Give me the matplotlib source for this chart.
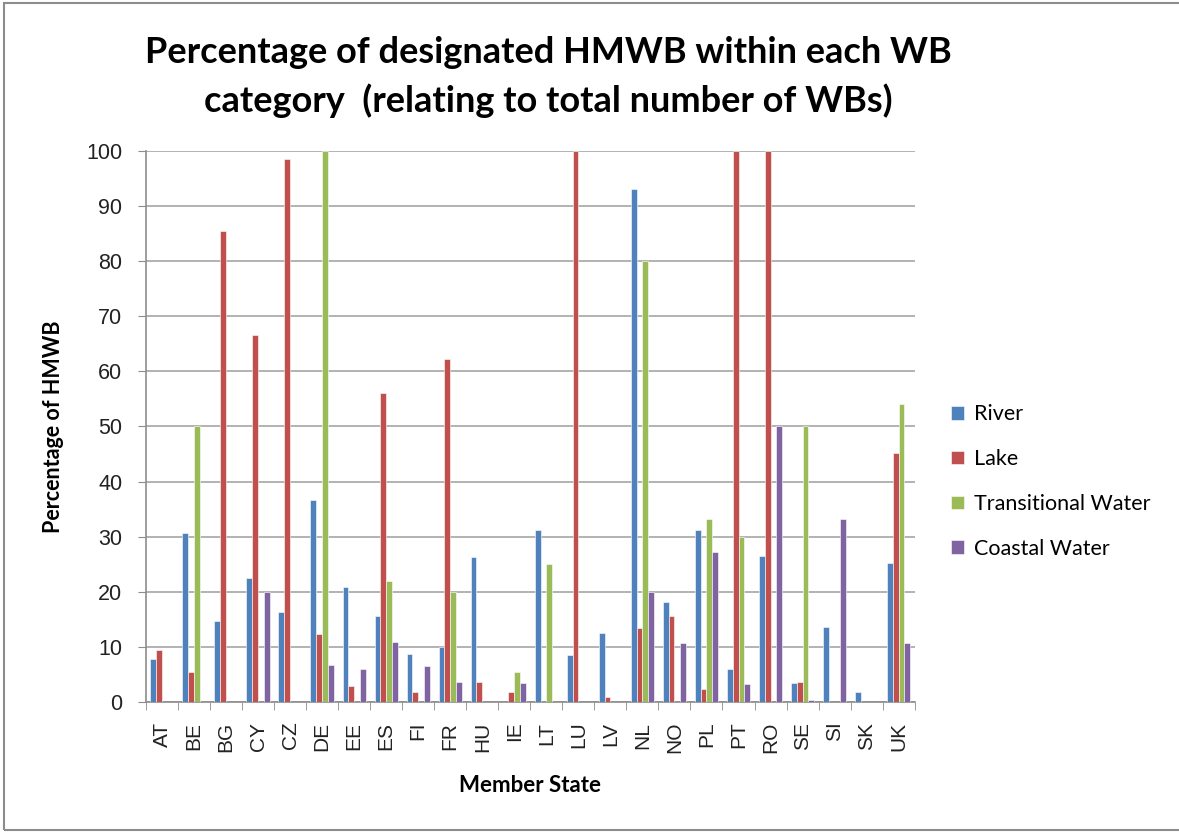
import numpy as np
import matplotlib.pyplot as plt
from matplotlib.patches import Rectangle

states = ['AT', 'BE', 'BG', 'CY', 'CZ', 'DE', 'EE', 'ES', 'FI', 'FR', 'HU', 'IE',
          'LT', 'LU', 'LV', 'NL', 'NO', 'PL', 'PT', 'RO', 'SE', 'SI', 'SK', 'UK']

river = [7.8, 30.7, 14.8, 22.5, 16.4, 36.6, 20.8, 15.7, 8.8, 10.0, 26.3, 0,
         31.3, 8.6, 12.5, 93.1, 18.2, 31.3, 6.0, 26.5, 3.4, 13.6, 1.9, 25.3]
lake = [9.5, 5.4, 85.4, 66.6, 98.5, 12.3, 2.9, 56.1, 1.8, 62.2, 3.7, 1.8,
        0, 100, 0.9, 13.5, 15.6, 2.4, 100, 100, 3.6, 0, 0, 45.2]
transitional = [0, 50, 0, 0, 0, 100, 0, 21.9, 0, 20, 0, 5.4,
                25, 0, 0, 80, 0, 33.3, 30, 0, 50, 0, 0, 54]
coastal = [0, 0, 0, 20, 0, 6.7, 6.1, 11, 6.5, 3.7, 0, 3.5,
           0, 0, 0, 20, 10.8, 27.3, 3.3, 50, 0.4, 33.3, 0, 10.7]

series = [('River', river, '#4F81BD'),
          ('Lake', lake, '#C0504D'),
          ('Transitional Water', transitional, '#9BBB59'),
          ('Coastal Water', coastal, '#8064A2')]

fig = plt.figure(figsize=(11.79, 8.32), dpi=100)
ax = fig.add_axes([0.1238, 0.156, 0.652, 0.663])

x = np.arange(len(states))
w = 1 / 5.5
for i, (name, vals, col) in enumerate(series):
    ax.bar(x + (i - 1.5) * w, vals, width=w, color=col, label=name,
           edgecolor='white', linewidth=0.4, zorder=3)

ax.set_xlim(-0.5, len(states) - 0.5)
ax.set_ylim(0, 100)
ax.set_yticks(range(0, 101, 10))
ax.yaxis.grid(True, color='#a6a6a6', linewidth=1.2, zorder=0)
ax.set_xticks(x)
ax.set_xticklabels(states, rotation=90, fontsize=15, family='Liberation Sans')
ax.set_xticks(np.arange(-0.5, len(states), 1), minor=True)
ax.tick_params(axis='x', which='major', length=0, pad=14)
ax.tick_params(axis='x', which='minor', length=6, color='#8c8c8c', direction='out')
ax.tick_params(axis='y', length=6, color='#8c8c8c', labelsize=15.5, pad=11)
for lbl in ax.get_yticklabels():
    lbl.set_family('Liberation Sans')
    lbl.set_color('#222222')
for lbl in ax.get_xticklabels():
    lbl.set_color('#222222')

for side in ['top', 'right']:
    ax.spines[side].set_visible(False)
ax.spines['left'].set_color('#8c8c8c')
ax.spines['bottom'].set_color('#8c8c8c')
ax.spines['left'].set_linewidth(1.2)
ax.spines['bottom'].set_linewidth(1.2)

ax.set_ylabel('Percentage of HMWB', fontsize=15.5, fontweight='bold', family='Lato', labelpad=16)
ax.set_xlabel('Member State', fontsize=16, fontweight='bold', family='Lato', labelpad=16)

fig.text(0.465, 0.907, 'Percentage of designated HMWB within each WB\ncategory  (relating to total number of WBs)',
         ha='center', va='center', fontsize=26, fontweight='bold', family='Lato', linespacing=1.5)

ax.legend(loc='center left', bbox_to_anchor=(1.022, 0.40), frameon=False,
          prop={'family': 'Lato', 'size': 15.5}, handlelength=0.6,
          handleheight=0.6, labelspacing=1.15, handletextpad=0.45)

fig.patches.append(Rectangle((0.003, 0.003), 1.0, 0.993, transform=fig.transFigure,
                             fill=False, edgecolor='#8c8c8c', linewidth=1.5))

fig.savefig('out.png', dpi=100)
